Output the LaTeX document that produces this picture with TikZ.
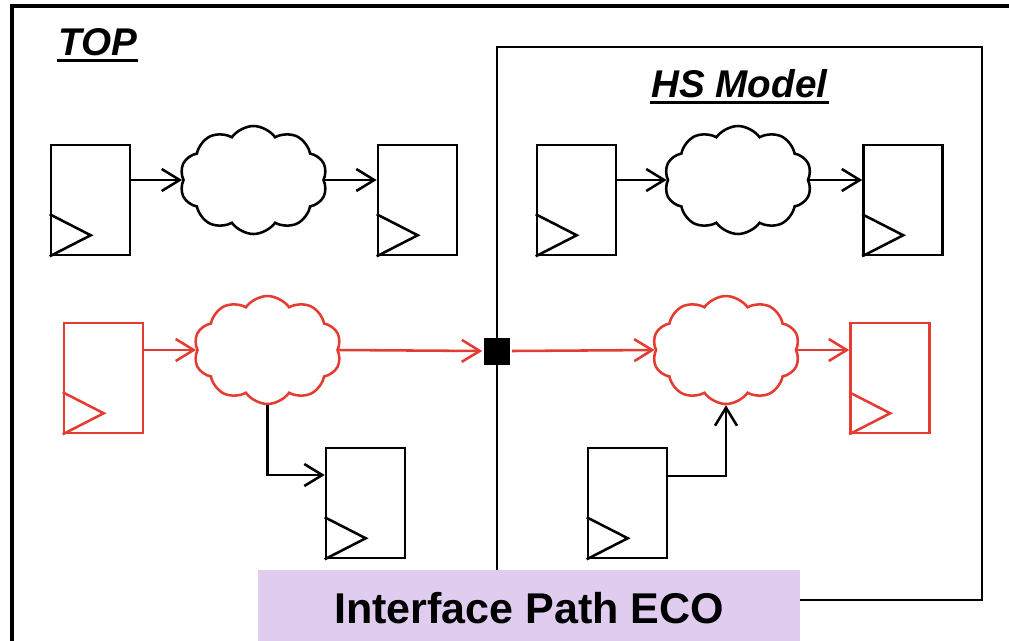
\documentclass[tikz,border=0pt]{standalone}
\usepackage{fontspec}
\setsansfont{Liberation Sans}
\usetikzlibrary{arrows.meta, calc, positioning, shapes}
\definecolor{ecored}{RGB}{228,60,50}
\definecolor{ecolilac}{RGB}{224,204,238}

\begin{document}
\begin{tikzpicture}[x=.02cm, y=-.02cm, line width=1.45pt,
		ff/.style={draw, rectangle, minimum width=1.58cm, minimum height=2.2cm, inner sep=0pt},
		blob/.style={draw, cloud, cloud puffs=10, cloud puff arc=110, aspect=1.4, minimum width=2.95cm, minimum height=2.16cm, inner sep=0pt},
		conn/.style={-{Straight Barb[length=.36cm, width=.44cm]}},
		title/.style={font=\sffamily\bfseries\itshape\fontsize{22}{26}\selectfont, inner sep=0pt, anchor=base west}]
		\useasboundingbox (0,0) rectangle (1009,640);
		\draw[line width=1.8pt] (12,6) rectangle (1030,670);
		% HS model boundary
		\draw (497,47) rectangle (982,600);
		\node[title] (top) at (57,55) {TOP};
		\node[title] (hs) at (650,97) {HS Model};
		\draw[line width=1.6pt] ([yshift=-.11cm]top.base west) -- ([yshift=-.11cm]top.base east);
		\draw[line width=1.6pt] ([yshift=-.11cm]hs.base west) -- ([yshift=-.11cm]hs.base east);
		% upper paths
		\node[ff] (f1) at (90.5,200) {};
		\node[blob] (c1) at (253.5,180) {};
		\node[ff] (f2) at (417.5,200) {};
		\node[ff] (f3) at (576.5,200) {};
		\node[blob] (c2) at (738,180) {};
		\node[ff] (f4) at (903,200) {};
		% interface path
		\node[ff, ecored] (f5) at (103.5,378) {};
		\node[blob, ecored] (c3) at (267.5,350) {};
		\node[fill, minimum size=.54cm, inner sep=0pt] (pin) at (497,351) {};
		\node[blob, ecored] (c4) at (726,350) {};
		\node[ff, ecored] (f6) at (890,378) {};
		\node[ff] (f7) at (365.5,503) {};
		\node[ff] (f8) at (627.5,503) {};
		\foreach \f/\c in {f1/black, f2/black, f3/black, f4/black, f5/ecored, f6/ecored, f7/black, f8/black}
			\draw[\c] ($(\f.south west)+(0,-42)$) -- ($(\f.south west)+(41,-21)$) -- (\f.south west);
		\draw[conn] (f1.east |- c1.west) -- (c1.west);
		\draw[conn] (c1.east) -- (f2.west |- c1.east);
		\draw[conn] (f3.east |- c2.west) -- (c2.west);
		\draw[conn] (c2.east) -- (f4.west |- c2.east);
		\draw[conn, ecored] (f5.east |- c3.west) -- (c3.west);
		\draw[conn, ecored] (c3.east) -- (pin.west);
		\draw[conn, ecored] (pin.east) -- (c4.west);
		\draw[conn, ecored] (c4.east) -- (f6.west |- c4.east);
		\draw[conn] (c3.south) |- ([yshift=.56cm]f7.west);
		\draw[conn] ([yshift=.54cm]f8.east) -| (c4.south);
		\node[fill=ecolilac, minimum width=10.84cm, minimum height=1.52cm, font=\sffamily\bfseries\fontsize{24.5}{28}\selectfont] (eco) at (529,608) {Interface Path ECO};
	\end{tikzpicture}
\end{document}
